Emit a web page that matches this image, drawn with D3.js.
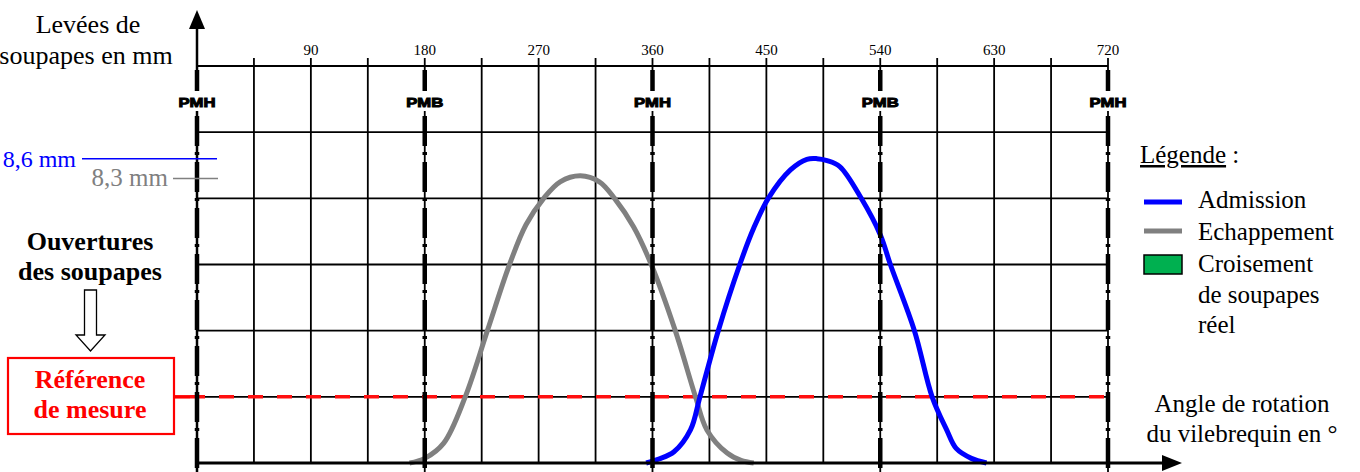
<!DOCTYPE html>
<html>
<head>
<meta charset="utf-8">
<title>Diagramme de distribution</title>
<script src="https://d3js.org/d3.v7.min.js"></script>
<style>
    body { margin:0; background:#fff; }
    text { font-family: "Liberation Serif", "Times New Roman", serif; }
</style>
</head>
<body>
<svg id="chart" width="1360" height="472"></svg>
<script>
const echapAngles = [168, 180, 195, 212, 229.5, 247, 260, 274, 287, 303, 318, 330, 345, 359, 378, 394, 403, 419, 430, 440];
const echapLift   = [4.0, 4.07, 4.3, 5.0, 6.0, 7.0, 7.6, 8.0, 8.25, 8.34, 8.25, 8.0, 7.57, 7.0, 6.0, 5.0, 4.5, 4.15, 4.04, 4.0];
const admAngles = [355, 365, 377, 390, 397.5, 412, 429, 440, 451.5, 469, 482, 490, 498, 508, 525, 540, 548, 567, 581, 592.5, 600, 612, 624];
const admLift   = [4.0, 4.06, 4.17, 4.5, 5.0, 6.0, 7.0, 7.55, 8.0, 8.43, 8.59, 8.6, 8.57, 8.48, 8.0, 7.45, 7.0, 6.0, 5.0, 4.5, 4.22, 4.07, 4.0];

const tickAngles = [90, 180, 270, 360, 450, 540, 630, 720];
const gridAngles = [45, 90, 135, 225, 270, 315, 405, 450, 495, 585, 630, 675];
const gridLift = [5, 6, 7, 8, 9, 10];
const pmAngles = [0, 180, 360, 540, 720];
const pmLabels = ["PMH", "PMB", "PMH", "PMB", "PMH"];
const refLift = 5;
const maxAdm = 8.6, maxEchap = 8.3;

const svg = d3.select("#chart");
const x = d3.scaleLinear().domain([0, 720]).range([197, 1108]);
const y = d3.scaleLinear().domain([4, 10]).range([463, 66]);

// grille
svg.append("g").selectAll("line").data(gridLift).join("line")
    .attr("x1", x(0)).attr("x2", x(720))
    .attr("y1", d => y(d)).attr("y2", d => y(d))
    .attr("stroke", "#000").attr("stroke-width", 1.8);

svg.append("g").selectAll("line").data(gridAngles).join("line")
    .attr("x1", d => x(d)).attr("x2", d => x(d))
    .attr("y1", y(10) - 8).attr("y2", y(4))
    .attr("stroke", "#000").attr("stroke-width", 1.8);

svg.append("g").selectAll("text").data(tickAngles).join("text")
    .attr("x", d => x(d)).attr("y", 55)
    .attr("text-anchor", "middle")
    .style("font-size", "15px")
    .text(d => d);

// reference de mesure
svg.append("line")
    .attr("x1", 174).attr("x2", 190)
    .attr("y1", y(refLift)).attr("y2", y(refLift))
    .attr("stroke", "red").attr("stroke-width", 3.5);
svg.append("line")
    .attr("x1", 190).attr("x2", x(720))
    .attr("y1", y(refLift)).attr("y2", y(refLift))
    .attr("stroke", "#ff1010").attr("stroke-width", 3.5)
    .attr("stroke-dasharray", "15,14");

// courbes
const line = d3.line()
    .x(d => x(d[0]))
    .y(d => y(d[1]))
    .curve(d3.curveCatmullRom.alpha(0.5));

svg.append("path")
    .datum(d3.zip(echapAngles, echapLift))
    .attr("d", line)
    .attr("fill", "none").attr("stroke", "#808080").attr("stroke-width", 5);

svg.append("path")
    .datum(d3.zip(admAngles, admLift))
    .attr("d", line)
    .attr("fill", "none").attr("stroke", "#0000ff").attr("stroke-width", 5);

// PMH / PMB
const pm = svg.append("g").selectAll("g").data(pmAngles).join("g");
pm.append("line")
    .attr("x1", d => x(d)).attr("x2", d => x(d))
    .attr("y1", d => d === 0 ? 24 : y(10) - 8).attr("y2", 472)
    .attr("stroke", "#000").attr("stroke-width", d => d === 0 ? 2.5 : 1.8);
pm.append("line")
    .attr("x1", d => x(d)).attr("x2", d => x(d))
    .attr("y1", 70).attr("y2", 472)
    .attr("stroke", "#000").attr("stroke-width", 4.5)
    .attr("stroke-dasharray", "30,6,3,7");
pm.append("rect")
    .attr("x", d => x(d) - 21).attr("y", 91)
    .attr("width", 42).attr("height", 20)
    .attr("fill", "#fff");
pm.append("text")
    .attr("x", d => x(d)).attr("y", 107)
    .attr("text-anchor", "middle")
    .attr("textLength", 37).attr("lengthAdjust", "spacingAndGlyphs")
    .style("font-family", "'Liberation Sans', Arial, sans-serif")
    .style("font-weight", "bold").style("font-size", "13.5px")
    .attr("stroke", "#000").attr("stroke-width", 1)
    .text((d, i) => pmLabels[i]);

// axes et fleches
svg.append("path")
    .attr("d", `M${x(0) - 8},29 L${x(0)},10 L${x(0) + 8},29 Z`)
    .attr("fill", "#000");
svg.append("line")
    .attr("x1", x(0)).attr("x2", 1166)
    .attr("y1", y(4)).attr("y2", y(4))
    .attr("stroke", "#000").attr("stroke-width", 3);
svg.append("path")
    .attr("d", `M1162,${y(4) - 8} L1182,${y(4)} L1162,${y(4) + 8} Z`)
    .attr("fill", "#000");

// levées max
svg.append("line")
    .attr("x1", 82).attr("x2", 217)
    .attr("y1", y(maxAdm)).attr("y2", y(maxAdm))
    .attr("stroke", "#0000ff").attr("stroke-width", 1.5);
svg.append("text")
    .attr("x", 76).attr("y", y(maxAdm) + 8)
    .attr("text-anchor", "end").attr("fill", "#0000ff")
    .style("font-size", "24px")
    .text("8,6 mm");
svg.append("line")
    .attr("x1", 173).attr("x2", 218)
    .attr("y1", y(maxEchap)).attr("y2", y(maxEchap))
    .attr("stroke", "#808080").attr("stroke-width", 1.5);
svg.append("text")
    .attr("x", 168).attr("y", y(maxEchap) + 8)
    .attr("text-anchor", "end").attr("fill", "#808080")
    .style("font-size", "25px")
    .text("8,3 mm");

// titres a gauche
const left = svg.append("g").attr("text-anchor", "middle").style("font-size", "26px");
left.append("text").attr("x", 88).attr("y", 33).text("Levées de");
left.append("text").attr("x", 86).attr("y", 64).text("soupapes en mm");
left.append("text").attr("x", 90).attr("y", 250).style("font-weight", "bold").text("Ouvertures");
left.append("text").attr("x", 90).attr("y", 280).style("font-weight", "bold").text("des soupapes");

svg.append("path")
    .attr("d", "M84.5,290 H96.5 V335 H105 L90.5,351 L76,335 H84.5 Z")
    .attr("fill", "#fff").attr("stroke", "#000").attr("stroke-width", 1.3);

const refBox = svg.append("g").attr("text-anchor", "middle").style("font-size", "26px");
refBox.append("rect")
    .attr("x", 8).attr("y", 358).attr("width", 166).attr("height", 76)
    .attr("fill", "#fff").attr("stroke", "red").attr("stroke-width", 2.2);
refBox.append("text").attr("x", 90).attr("y", 388).attr("fill", "red").style("font-weight", "bold").text("Référence");
refBox.append("text").attr("x", 90).attr("y", 418).attr("fill", "red").style("font-weight", "bold").text("de mesure");

// legende
const leg = svg.append("g").style("font-size", "25px");
leg.append("text").attr("x", 1140).attr("y", 163)
    .html('<tspan text-decoration="underline">Légende</tspan> :');
leg.append("line").attr("x1", 1144).attr("x2", 1182).attr("y1", 202).attr("y2", 202)
    .attr("stroke", "#0000ff").attr("stroke-width", 5);
leg.append("line").attr("x1", 1144).attr("x2", 1182).attr("y1", 231).attr("y2", 231)
    .attr("stroke", "#808080").attr("stroke-width", 5);
leg.append("rect").attr("x", 1144).attr("y", 255).attr("width", 38).attr("height", 19)
    .attr("fill", "#00b050").attr("stroke", "#000").attr("stroke-width", 1.5);
const legTexts = [["Admission", 208], ["Echappement", 240], ["Croisement", 272], ["de soupapes", 303], ["réel", 333]];
leg.selectAll("text.item").data(legTexts).join("text")
    .attr("class", "item")
    .attr("x", 1198).attr("y", d => d[1])
    .text(d => d[0]);

const ax = svg.append("g").attr("text-anchor", "middle").style("font-size", "25px");
ax.append("text").attr("x", 1242).attr("y", 412).text("Angle de rotation");
ax.append("text").attr("x", 1242).attr("y", 442).text("du vilebrequin en °");
</script>
</body>
</html>
